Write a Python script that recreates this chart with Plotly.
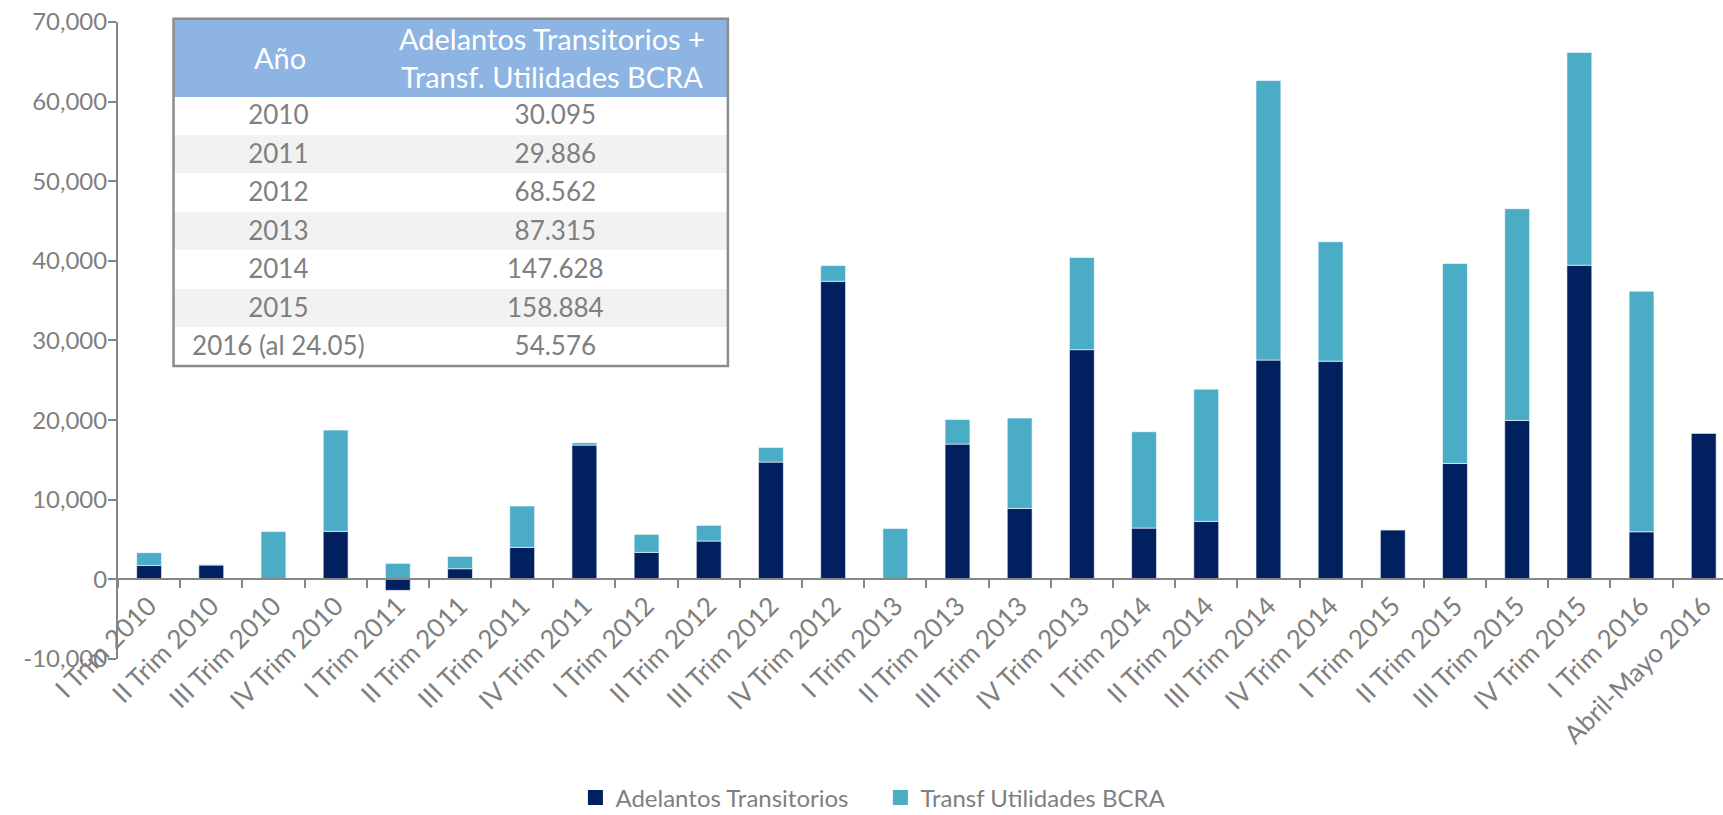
import plotly.graph_objects as go

# trimestres (eje x)
trimestres = [
    "I Trim 2010", "II Trim 2010", "III Trim 2010", "IV Trim 2010",
    "I Trim 2011", "II Trim 2011", "III Trim 2011", "IV Trim 2011",
    "I Trim 2012", "II Trim 2012", "III Trim 2012", "IV Trim 2012",
    "I Trim 2013", "II Trim 2013", "III Trim 2013", "IV Trim 2013",
    "I Trim 2014", "II Trim 2014", "III Trim 2014", "IV Trim 2014",
    "I Trim 2015", "II Trim 2015", "III Trim 2015", "IV Trim 2015",
    "I Trim 2016", "Abril-Mayo 2016",
]

# millones de pesos
adelantos = [
    1750, 1800, 0, 6030,
    -1380, 1340, 4020, 16860,
    3390, 4810, 14730, 37430,
    0, 16990, 8910, 28850,
    6440, 7280, 27540, 27400,
    6230, 14560, 19960, 39450,
    5980, 18370,
]
utilidades = [
    1600, 80, 6000, 12720,
    2010, 1550, 5190, 300,
    2260, 1970, 1840, 1980,
    6400, 3090, 11340, 11570,
    12100, 16610, 35100, 15000,
    0, 25100, 26590, 26730,
    30200, 0,
]

y_ticks = [-10000, 0, 10000, 20000, 30000, 40000, 50000, 60000, 70000]
y_tick_labels = ["-10,000", "0", "10,000", "20,000", "30,000", "40,000",
                 "50,000", "60,000", "70,000"]

# tabla
encabezados = ["Año", "Adelantos Transitorios +<br>Transf. Utilidades BCRA"]
anios = ["2010", "2011", "2012", "2013", "2014", "2015", "2016 (al 24.05)"]
totales = ["30.095", "29.886", "68.562", "87.315", "147.628", "158.884", "54.576"]

gris = "#7f7f7f"
fuente = "Lato"
oscuro = "#002060"
claro = "#4bacc6"

fig = go.Figure()
fig.add_trace(go.Bar(x=trimestres, y=adelantos, name="Adelantos Transitorios",
                     marker=dict(color=oscuro, line=dict(color="white", width=0.6)),
                     showlegend=False))
fig.add_trace(go.Bar(x=trimestres, y=utilidades, name="Transf Utilidades BCRA",
                     marker=dict(color=claro, line=dict(color="white", width=0.6)),
                     showlegend=False))

# entradas de leyenda con cuadrado grande, cada una en su propia leyenda
for nombre, color, ley in [("Adelantos Transitorios", oscuro, "legend"),
                           ("Transf Utilidades BCRA", claro, "legend2")]:
    fig.add_trace(go.Scatter(x=[None], y=[None], mode="markers", name=nombre,
                             legend=ley,
                             marker=dict(symbol="square", size=15, color=color)))

tx0, tx1, ty0, ty1 = 0.0346, 0.380, 0.457, 0.999
fig.add_trace(go.Table(
    domain=dict(x=[tx0, tx1], y=[ty0, ty1]),
    columnwidth=[210, 345],
    header=dict(values=["", ""],
                fill_color="#8db4e2", line_color="#8db4e2", height=78),
    cells=dict(values=[[a.replace(" ", "\u00a0") for a in anios], totales],
               fill_color=[["white", "#f2f2f2"] * 4],
               line_color=[["white", "#f2f2f2"] * 4],
               align="center", height=38.5,
               font=dict(family=fuente, size=26, color=gris)),
))

fig.add_shape(type="rect", xref="paper", yref="paper",
              x0=tx0, x1=tx1, y0=ty0, y1=ty1,
              line=dict(color="#8c8c8c", width=2.5))

for texto, xc in zip(encabezados, [0.1009, 0.2704]):
    fig.add_annotation(text=texto, x=xc, y=0.938, xref="paper", yref="paper",
                       showarrow=False, xanchor="center", yanchor="middle",
                       font=dict(family=fuente, size=29, color="white"))

fig.update_layout(
    width=1723, height=815,
    margin=dict(l=118, r=0, t=18, b=156, autoexpand=False),
    barmode="relative", bargap=0.6,
    plot_bgcolor="white", paper_bgcolor="white",
    font=dict(family=fuente, size=24, color=gris),
    showlegend=True,
    legend=dict(x=0.285, xanchor="left", y=-0.2168, yanchor="middle",
                font=dict(size=24, color=gris), bgcolor="rgba(0,0,0,0)"),
    legend2=dict(x=0.475, xanchor="left", y=-0.2168, yanchor="middle",
                 font=dict(size=24, color=gris), bgcolor="rgba(0,0,0,0)"),
    xaxis=dict(anchor="free", position=0.1242, range=[-0.5, 25.31],
               automargin=False,
               showline=True, linecolor="#868686", linewidth=2,
               ticks="outside", tickson="boundaries", ticklen=8,
               tickcolor="#868686", tickwidth=2,
               tickangle=-45, showgrid=False,
               tickfont=dict(family=fuente, size=26, color=gris)),
    yaxis=dict(domain=[0, 0.9938], range=[-10000, 70000], automargin=False,
               tickvals=y_ticks, ticktext=y_tick_labels,
               showline=True, linecolor="#868686", linewidth=2,
               ticks="outside", ticklen=8, tickcolor="#868686", tickwidth=2,
               ticklabelstandoff=-4,
               showgrid=False, zeroline=False,
               tickfont=dict(family=fuente, size=24, color=gris)),
)

# quitar el margen por defecto del body para que el gráfico quede en (0, 0)
fig.write_html("out.html", config={"displayModeBar": False},
               post_script="document.body.style.margin='0';")
